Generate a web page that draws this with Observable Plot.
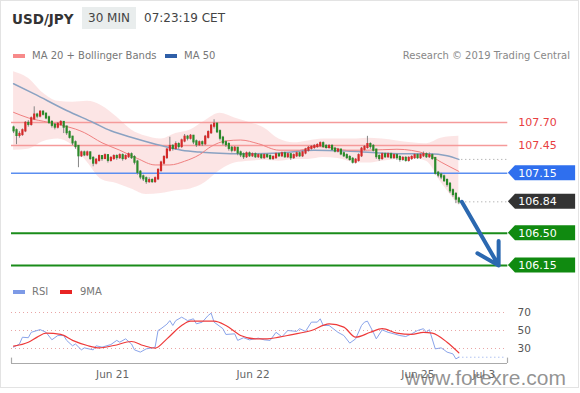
<!DOCTYPE html>
<html><head><meta charset="utf-8">
<script src="https://cdn.jsdelivr.net/npm/d3@7"></script>
<script src="https://cdn.jsdelivr.net/npm/@observablehq/plot@0.6"></script>
<style>
body{margin:0;background:#fff;font-family:"DejaVu Sans",sans-serif;}
#wrap{position:relative;width:580px;height:393px;overflow:hidden;background:#fff;}
.abs{position:absolute;white-space:nowrap;}
#frame{left:0;top:0;width:577px;height:386px;border:1px solid #e3e3e3;}
#title{left:12px;top:8px;line-height:22px;font-size:13.5px;font-weight:bold;color:#333;}
#tf{left:82px;top:7px;width:54px;height:22px;line-height:22px;text-align:center;font-size:12px;color:#444;background:#e9eded;}
#time{left:144px;top:7px;line-height:22px;font-size:12px;color:#444;}
.leg{font-size:10px;color:#777;line-height:14px;}
.sw{height:4px;width:12px;}
#main{left:0;top:65px;}
#rsi{left:0;top:300px;}
#wm{left:405px;top:366px;line-height:24px;font-family:"Liberation Sans",Arial,sans-serif;font-size:21px;color:rgba(105,105,105,0.72);}
</style></head><body>
<div id="wrap">
  <div id="frame" class="abs"></div>
  <div id="title" class="abs">USD/JPY</div>
  <div id="tf" class="abs">30 MIN</div>
  <div id="time" class="abs">07:23:19 CET</div>
  <div class="abs sw" style="left:13px;top:54px;background:#f78a8a"></div>
  <div class="abs leg" style="left:32px;top:49px">MA 20 + Bollinger Bands</div>
  <div class="abs sw" style="left:165px;top:54px;background:#2f5fa8"></div>
  <div class="abs leg" style="left:184px;top:49px">MA 50</div>
  <div class="abs leg" style="right:10px;top:49px;color:#888">Research © 2019 Trading Central</div>
  <div id="main" class="abs"></div>
  <div class="abs sw" style="left:13px;top:290px;background:#7d9ae6"></div>
  <div class="abs leg" style="left:32px;top:285px">RSI</div>
  <div class="abs sw" style="left:60px;top:290px;background:#e82424"></div>
  <div class="abs leg" style="left:80px;top:285px">9MA</div>
  <div id="rsi" class="abs"></div>
  <div id="wm" class="abs">www.forexre.com</div>
</div>
<script>
// ---------- DATA ----------
const firstOpen = 107.64;
const closes = [107.61,107.56,107.57,107.61,107.69,107.68,107.74,107.78,107.77,107.81,
 107.79,107.75,107.70,107.67,107.65,107.68,107.70,107.65,107.59,107.54,
 107.48,107.44,107.34,107.37,107.35,107.37,107.31,107.26,107.29,107.33,
 107.31,107.34,107.29,107.31,107.33,107.32,107.34,107.31,107.33,107.35,
 107.32,107.27,107.16,107.11,107.09,107.06,107.07,107.06,107.09,107.18,
 107.26,107.32,107.40,107.44,107.42,107.46,107.44,107.50,107.54,107.53,
 107.55,107.49,107.46,107.48,107.47,107.54,107.59,107.66,107.68,107.60,
 107.53,107.48,107.46,107.42,107.40,107.42,107.37,107.35,107.33,107.36,
 107.34,107.35,107.33,107.34,107.32,107.34,107.33,107.31,107.32,107.35,
 107.34,107.36,107.33,107.35,107.32,107.34,107.36,107.34,107.37,107.40,
 107.42,107.43,107.44,107.45,107.47,107.44,107.43,107.44,107.41,107.39,
 107.40,107.36,107.34,107.32,107.30,107.27,107.29,107.34,107.41,107.43,
 107.46,107.44,107.40,107.33,107.31,107.35,107.33,107.35,107.32,107.34,
 107.32,107.30,107.31,107.29,107.31,107.32,107.34,107.32,107.34,107.35,
 107.33,107.34,107.31,107.15,107.13,107.11,107.07,107.03,106.96,106.92,
 106.87,106.84];
const highs = [107.66,107.63,107.60,107.63,107.71,107.72,107.76,107.87,107.80,107.83,
 107.83,107.80,107.77,107.72,107.69,107.70,107.72,107.71,107.66,107.61,
 107.55,107.50,107.45,107.39,107.39,107.39,107.38,107.33,107.31,107.35,
 107.34,107.36,107.35,107.33,107.35,107.35,107.36,107.36,107.35,107.37,
 107.37,107.34,107.29,107.18,107.13,107.11,107.10,107.09,107.11,107.20,
 107.28,107.34,107.42,107.54,107.46,107.49,107.48,107.52,107.57,107.56,
 107.57,107.56,107.51,107.50,107.50,107.56,107.61,107.68,107.73,107.70,
 107.62,107.55,107.50,107.48,107.44,107.44,107.43,107.39,107.37,107.38,
 107.38,107.37,107.37,107.36,107.36,107.36,107.36,107.35,107.34,107.37,
 107.37,107.38,107.38,107.37,107.36,107.36,107.38,107.38,107.39,107.42,
 107.44,107.45,107.46,107.47,107.49,107.49,107.46,107.46,107.46,107.43,
 107.42,107.41,107.38,107.36,107.34,107.32,107.31,107.36,107.43,107.45,
 107.55,107.48,107.46,107.41,107.35,107.37,107.37,107.37,107.37,107.36,
 107.36,107.34,107.33,107.33,107.33,107.34,107.36,107.36,107.36,107.38,
 107.37,107.37,107.36,107.32,107.17,107.15,107.13,107.09,107.05,106.98,
 106.94,106.89];
const lows = [107.58,107.46,107.53,107.55,107.59,107.65,107.66,107.72,107.74,107.75,
 107.77,107.73,107.68,107.64,107.62,107.63,107.66,107.58,107.56,107.52,
 107.45,107.41,107.21,107.32,107.33,107.33,107.29,107.22,107.24,107.27,
 107.28,107.30,107.26,107.27,107.29,107.29,107.30,107.28,107.29,107.31,
 107.30,107.24,107.13,107.08,107.06,107.03,107.04,107.04,107.04,107.07,
 107.16,107.24,107.30,107.38,107.39,107.40,107.41,107.42,107.48,107.50,
 107.51,107.46,107.43,107.44,107.44,107.45,107.52,107.57,107.63,107.58,
 107.50,107.45,107.43,107.39,107.37,107.38,107.34,107.32,107.30,107.31,
 107.32,107.32,107.31,107.31,107.30,107.30,107.31,107.29,107.29,107.30,
 107.32,107.32,107.31,107.31,107.29,107.30,107.32,107.32,107.32,107.35,
 107.38,107.40,107.41,107.42,107.43,107.42,107.41,107.41,107.39,107.37,
 107.37,107.34,107.32,107.30,107.28,107.25,107.25,107.27,107.32,107.39,
 107.41,107.41,107.38,107.30,107.28,107.29,107.31,107.31,107.30,107.30,
 107.29,107.27,107.28,107.27,107.27,107.29,107.30,107.30,107.30,107.32,
 107.31,107.31,107.29,107.13,107.10,107.08,107.05,107.00,106.93,106.89,
 106.82,106.81];

const ma50Idx = [0,7,18,27,33,41,50,57,63,68,79,90,102,113,124,136,141,147,151];
const ma50Val = [108.12,108.01,107.83,107.70,107.61,107.53,107.45,107.40,107.38,107.37,107.36,107.37,107.40,107.39,107.37,107.36,107.36,107.34,107.30];

const ma20Idx = [0,5,12,24,30,36,42,48,53,58,63,67,72,77,83,90,97,102,107,113,120,130,140,145,151];
const ma20Val = [107.81,107.75,107.70,107.59,107.48,107.40,107.31,107.24,107.24,107.28,107.35,107.44,107.50,107.51,107.47,107.40,107.40,107.44,107.43,107.40,107.40,107.41,107.36,107.27,107.17];

const bbIdx = [0,5,10,15,20,25,30,35,40,45,50,55,60,65,70,75,80,85,90,95,100,105,110,115,120,125,130,135,140,145,151];
const bbUpper = [108.25,108.18,108.02,107.93,107.92,107.93,107.88,107.76,107.62,107.55,107.52,107.58,107.62,107.72,107.80,107.75,107.70,107.64,107.52,107.48,107.50,107.52,107.52,107.52,107.53,107.52,107.50,107.48,107.47,107.53,107.55];
const bbLower = [107.40,107.41,107.49,107.52,107.45,107.27,107.08,107.04,106.98,106.92,106.93,106.96,106.98,107.05,107.18,107.26,107.28,107.29,107.28,107.30,107.30,107.32,107.31,107.27,107.26,107.28,107.30,107.31,107.28,107.05,106.80];

const levelValues = [107.70, 107.45, 107.15, 106.50, 106.15];
const levelKinds  = ["resistance","resistance","pivot","support","support"];
const forecastIdx = 164.5;          // end of the forecast arrow (future candle index)
const forecastTarget = 106.15;

const rsiIdx = [0,2,3,5,6,9,11,13,15,17,18,20,21,23,24,27,28,30,33,35,36,38,40,41,43,45,47,48,49,50,52,53,54,55,57,58,59,61,62,64,66,67,68,71,72,75,76,78,80,83,85,87,89,91,93,96,97,99,101,103,104,105,107,110,112,114,116,118,119,120,122,123,125,127,129,131,133,135,137,139,140,141,143,145,146,147,149,150,151];
const rsiVal = [31.5,35,42.5,42,48,51,48,39.7,44.4,44.4,39,33,35,28.5,30.7,28.5,33,31.5,34.4,39,37,40.7,35,28.5,26,29.6,30.7,31.5,50,52,57,61,55.6,61,64.8,63,61,63,57.4,59.3,66.7,69.3,59.3,52,45.6,46.3,39,42,39.6,41.5,39.6,39,48,43,50,49,52,49,59.3,59.3,63,55.6,55.6,48,44.4,36,40.7,55.6,59.3,60.4,48,40.7,50.7,48,46.3,44.4,43.3,46.3,50,52,48,51,29.6,30.7,28.5,26,24,18.5,20.3];
const rsiMaIdx = [0,5,8,11,16,20,25,29,34,40,44,48,52,57,60,68,72,77,82,86,90,94,101,107,112,116,121,125,130,135,139,142,147,151];
const rsiMaVal = [32.6,37,42.6,47,45.6,39,33.3,30.7,33.3,37.8,33.3,30.4,40.7,55.6,60.4,60.4,55.6,44.4,40.7,40.7,42.6,45.2,50,57.4,53.7,42.6,48,52,47,45.6,48,47,37,25.2];
const rsiGrid = [70, 50, 30];

const xTickIdx = [33.6, 81.2, 137.1, 159.5];
const xTickLabels = ["Jun 21", "Jun 22", "Jun 25", "Jul 3"];

// ---------- BUILD ----------
const N = closes.length;
const candles = closes.map((c, i) => ({i, o: i === 0 ? firstOpen : closes[i - 1], c, h: highs[i], l: lows[i]}));
const ma50 = ma50Idx.map((i, k) => ({i, v: ma50Val[k]}));
const ma20 = ma20Idx.map((i, k) => ({i, v: ma20Val[k]}));
const bb = bbIdx.map((i, k) => ({i, hi: bbUpper[k], lo: bbLower[k]}));
const levels = levelValues.map((v, k) => ({v, kind: levelKinds[k], label: v.toFixed(2)}));
const rsi = rsiIdx.map((i, k) => ({i, v: rsiVal[k]}));
const rsiMa = rsiMaIdx.map((i, k) => ({i, v: rsiMaVal[k]}));
const xTicks = xTickIdx.map((i, k) => ({i, label: xTickLabels[k]}));
const lastClose = closes[N - 1];
const lastMa50 = ma50Val[ma50Val.length - 1];
const lastRsi = rsiVal[rsiVal.length - 1];

// layout (index units on the shared time axis)
const X0 = -0.7, X1 = 167.5;
const LINE_END = 167.6, TAG_TIP = 167.8, TAG_BODY = 170.2, TAG_END = 190.6, LABEL_X = 170.8;
const TAG_H = 0.081;
const xScale = {domain: [X0, X1], range: [11, 507], axis: null};
const UP = "#d42a2a", DOWN = "#2b8a2b";
const kindStyle = {
  resistance: {line: "#f59a9a", width: 1.5, text: "#e8403f", tag: null},
  pivot: {line: "#5b8ef0", width: 1.5, text: "#ffffff", tag: "#2f6fee"},
  support: {line: "#1a8c1a", width: 2, text: "#ffffff", tag: "#108a10"},
  last: {line: "#999999", width: 1, text: "#ffffff", tag: "#333333"}
};
const tagged = levels.filter(d => kindStyle[d.kind].tag)
  .concat([{v: lastClose, kind: "last", label: lastClose.toFixed(2)}]);
const tagShape = t => [
  {x: TAG_TIP, y1: t.v, y2: t.v},
  {x: TAG_BODY, y1: t.v - TAG_H, y2: t.v + TAG_H},
  {x: TAG_END, y1: t.v - TAG_H, y2: t.v + TAG_H}
];
const plotStyle = {fontFamily: '"DejaVu Sans", sans-serif', fontSize: "11px", background: "transparent", overflow: "visible"};

const main = Plot.plot({
  width: 580, height: 215, margin: 0,
  x: xScale,
  y: {domain: [106.15, 107.70], range: [200, 57], axis: null},
  color: {type: "identity"},
  style: plotStyle,
  marks: [
    Plot.areaY(bb, {x: "i", y1: "lo", y2: "hi", fill: "#f7b8b8", fillOpacity: 0.36, curve: "monotone-x"}),
    Plot.ruleY(levels, {y: "v", x1: X0, x2: LINE_END, stroke: d => kindStyle[d.kind].line, strokeWidth: d => kindStyle[d.kind].width}),
    Plot.line(ma50, {x: "i", y: "v", stroke: "#8aa2c2", strokeWidth: 1.5, curve: "monotone-x"}),
    Plot.line(ma20, {x: "i", y: "v", stroke: "#f08080", strokeWidth: 1, curve: "monotone-x"}),
    Plot.ruleY([lastMa50], {y: d => d, x1: N, x2: LINE_END, stroke: "#999", strokeDasharray: "1,3"}),
    Plot.ruleY([lastClose], {y: d => d, x1: N, x2: LINE_END, stroke: "#999", strokeDasharray: "1,3"}),
    Plot.ruleX(candles, {x: "i", y1: "l", y2: "h", stroke: "#858585", strokeWidth: 1}),
    Plot.ruleX(candles, {x: "i", y1: "o", y2: "c", stroke: d => d.c >= d.o ? UP : DOWN, strokeWidth: 2.2, strokeLinecap: "square"}),
    Plot.arrow([{x1: N, y1: lastClose, x2: forecastIdx, y2: forecastTarget}], {x1: "x1", y1: "y1", x2: "x2", y2: "y2", stroke: "#2b68b0", strokeWidth: 4, headLength: 13, headAngle: 60}),
    ...tagged.map(t => Plot.areaY(tagShape(t), {x: "x", y1: "y1", y2: "y2", fill: kindStyle[t.kind].tag, curve: "linear"})),
    Plot.text(levels.concat(tagged.filter(d => d.kind === "last")), {x: LABEL_X, y: "v", text: "label", fill: d => kindStyle[d.kind].text, textAnchor: "start", fontSize: 11, dx: 1})
  ]
});
document.getElementById("main").appendChild(main);

const RSI_FLOOR = 13.33;
const rsiPlot = Plot.plot({
  width: 580, height: 93, margin: 0,
  x: xScale,
  y: {domain: [RSI_FLOOR, 70], range: [63, 12], axis: null},
  style: plotStyle,
  marks: [
    Plot.ruleY(rsiGrid, {y: d => d, x1: X0, x2: X1, stroke: "#e9a5a5", strokeDasharray: "1,3"}),
    Plot.text(rsiGrid, {x: X1, y: d => d, text: d => String(d), dx: 10, textAnchor: "start", fill: "#555", fontSize: 10.5}),
    Plot.line(rsi, {x: "i", y: "v", stroke: "#8aa4ea", strokeWidth: 1}),
    Plot.line(rsiMa, {x: "i", y: "v", stroke: "#ee3a3a", strokeWidth: 1.2, curve: "monotone-x"}),
    Plot.ruleY([lastRsi], {y: d => d, x1: N - 1, x2: X1 - 1, stroke: "#8aa4ea", strokeDasharray: "1,3"}),
    Plot.ruleY([RSI_FLOOR], {y: d => d, x1: X0, x2: X1, stroke: "#aaa", strokeWidth: 1.2}),
    Plot.ruleX([X0, X1], {x: d => d, y1: RSI_FLOOR, y2: RSI_FLOOR + 6, stroke: "#aaa", strokeWidth: 1.2}),
    Plot.text(xTicks, {x: "i", y: RSI_FLOOR, text: "label", dy: 11, fill: "#666", fontSize: 10.5})
  ]
});
document.getElementById("rsi").appendChild(rsiPlot);
</script>
</body></html>
